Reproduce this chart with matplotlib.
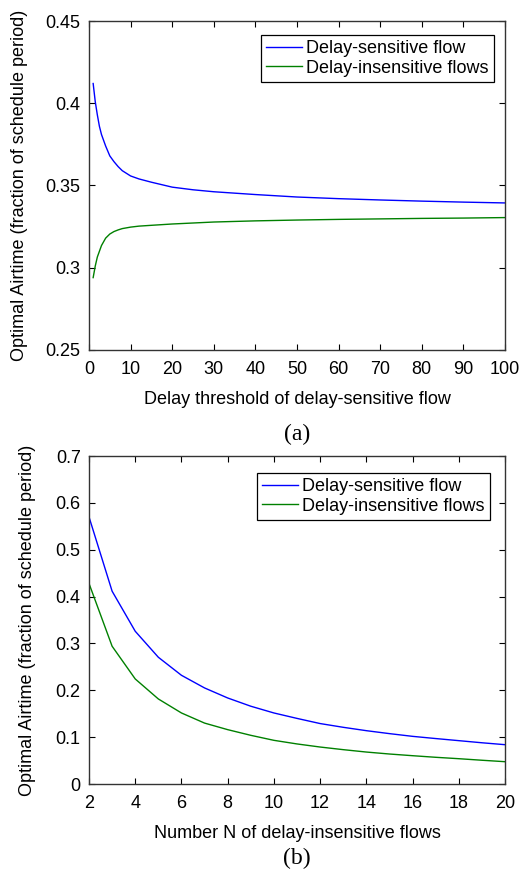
import matplotlib
matplotlib.use("Agg")
import matplotlib.pyplot as plt

# ---- data (a) ----
delay_thr = [1, 1.5, 2, 2.5, 3, 4, 5, 6, 7, 8, 10, 12, 15, 20, 25, 30, 40, 50, 60, 70, 80, 90, 100]
a_sensitive = [0.412, 0.401, 0.393, 0.386, 0.381, 0.374, 0.368, 0.3645, 0.3615, 0.359,
               0.3558, 0.354, 0.352, 0.3490, 0.3474, 0.3462, 0.3445, 0.3430, 0.3420,
               0.3412, 0.3405, 0.3399, 0.3394]
a_insensitive = [0.294, 0.301, 0.3065, 0.310, 0.3135, 0.318, 0.3205, 0.322, 0.323, 0.3238,
                 0.3247, 0.3253, 0.3258, 0.3266, 0.3272, 0.3278, 0.3285, 0.3290, 0.3294,
                 0.3297, 0.3300, 0.3302, 0.3305]

# ---- data (b) ----
n_flows = list(range(2, 21))
b_sensitive = [0.570, 0.4115, 0.326, 0.2705, 0.232, 0.205, 0.1836, 0.166, 0.1516, 0.140,
               0.129, 0.121, 0.1138, 0.1075, 0.1017, 0.097, 0.0925, 0.088, 0.0839]
b_insensitive = [0.428, 0.294, 0.2242, 0.1815, 0.1516, 0.130, 0.116, 0.1039, 0.0932, 0.0855,
                 0.0789, 0.0733, 0.0682, 0.064, 0.0604, 0.057, 0.054, 0.0507, 0.0476]

labels = ["Delay-sensitive flow", "Delay-insensitive flows"]
ylabel = "Optimal Airtime (fraction of schedule period)"

plt.rcParams['font.family'] = ['Liberation Sans', 'DejaVu Sans']
FS = 13
plt.rcParams['font.size'] = FS

W, H = 529, 871
fig = plt.figure(figsize=(W / 100, H / 100), dpi=100)

def px_axes(left, top, right, bottom):
    return fig.add_axes([left / W, 1 - bottom / H, (right - left) / W, (bottom - top) / H])

def style(ax):
    ax.tick_params(direction='in', top=True, right=True, length=4, width=0.8,
                   labelsize=FS, colors='black')
    ax.tick_params(axis='x', pad=8)
    ax.tick_params(axis='y', pad=6)
    for s in ax.spines.values():
        s.set_linewidth(1.0)
        s.set_color('#333333')

def legend(ax, anchor):
    leg = ax.legend(loc='upper right', bbox_to_anchor=anchor, borderaxespad=0,
                    fancybox=False, framealpha=1, edgecolor='black', handlelength=1.95,
                    handletextpad=0.25, borderpad=0.3, labelspacing=0.12, fontsize=FS)
    leg.get_frame().set_linewidth(0.9)
    return leg

# (a)
ax1 = px_axes(89, 21, 505, 350)
ax1.plot(delay_thr, a_sensitive, color='#0000ff', lw=1.0, label=labels[0])
ax1.plot(delay_thr, a_insensitive, color='#008000', lw=1.0, label=labels[1])
ax1.set_xlim(0, 100)
ax1.set_ylim(0.25, 0.45)
ax1.set_xticks(range(0, 101, 10))
ax1.set_yticks([0.25, 0.3, 0.35, 0.4, 0.45])
ax1.set_yticklabels(["0.25", "0.3", "0.35", "0.4", "0.45"])
style(ax1)
ax1.set_xlabel("Delay threshold of delay-sensitive flow", fontsize=FS, labelpad=9)
ax1.set_ylabel(ylabel, fontsize=FS)
ax1.yaxis.set_label_coords((28 - 89) / 416, 0.5)
legend(ax1, (0.9736, 0.9574))
fig.text(297 / W, 1 - 434.5 / H, "(a)", ha='center', va='center',
         fontsize=17, family='Liberation Serif')

# (b)
ax2 = px_axes(89, 456, 505, 784)
ax2.plot(n_flows, b_sensitive, color='#0000ff', lw=1.0, label=labels[0])
ax2.plot(n_flows, b_insensitive, color='#008000', lw=1.0, label=labels[1])
ax2.set_xlim(2, 20)
ax2.set_ylim(0, 0.7)
ax2.set_xticks(range(2, 21, 2))
ax2.set_yticks([0, 0.1, 0.2, 0.3, 0.4, 0.5, 0.6, 0.7])
ax2.set_yticklabels(["0", "0.1", "0.2", "0.3", "0.4", "0.5", "0.6", "0.7"])
style(ax2)
ax2.set_xlabel("Number N of delay-insensitive flows", fontsize=FS, labelpad=9)
ax2.set_ylabel(ylabel, fontsize=FS)
ax2.yaxis.set_label_coords((36 - 89) / 416, 0.5)
legend(ax2, (0.964, 0.948))
fig.text(297 / W, 1 - 858 / H, "(b)", ha='center', va='center',
         fontsize=17, family='Liberation Serif')

fig.savefig("out.png", dpi=100)
